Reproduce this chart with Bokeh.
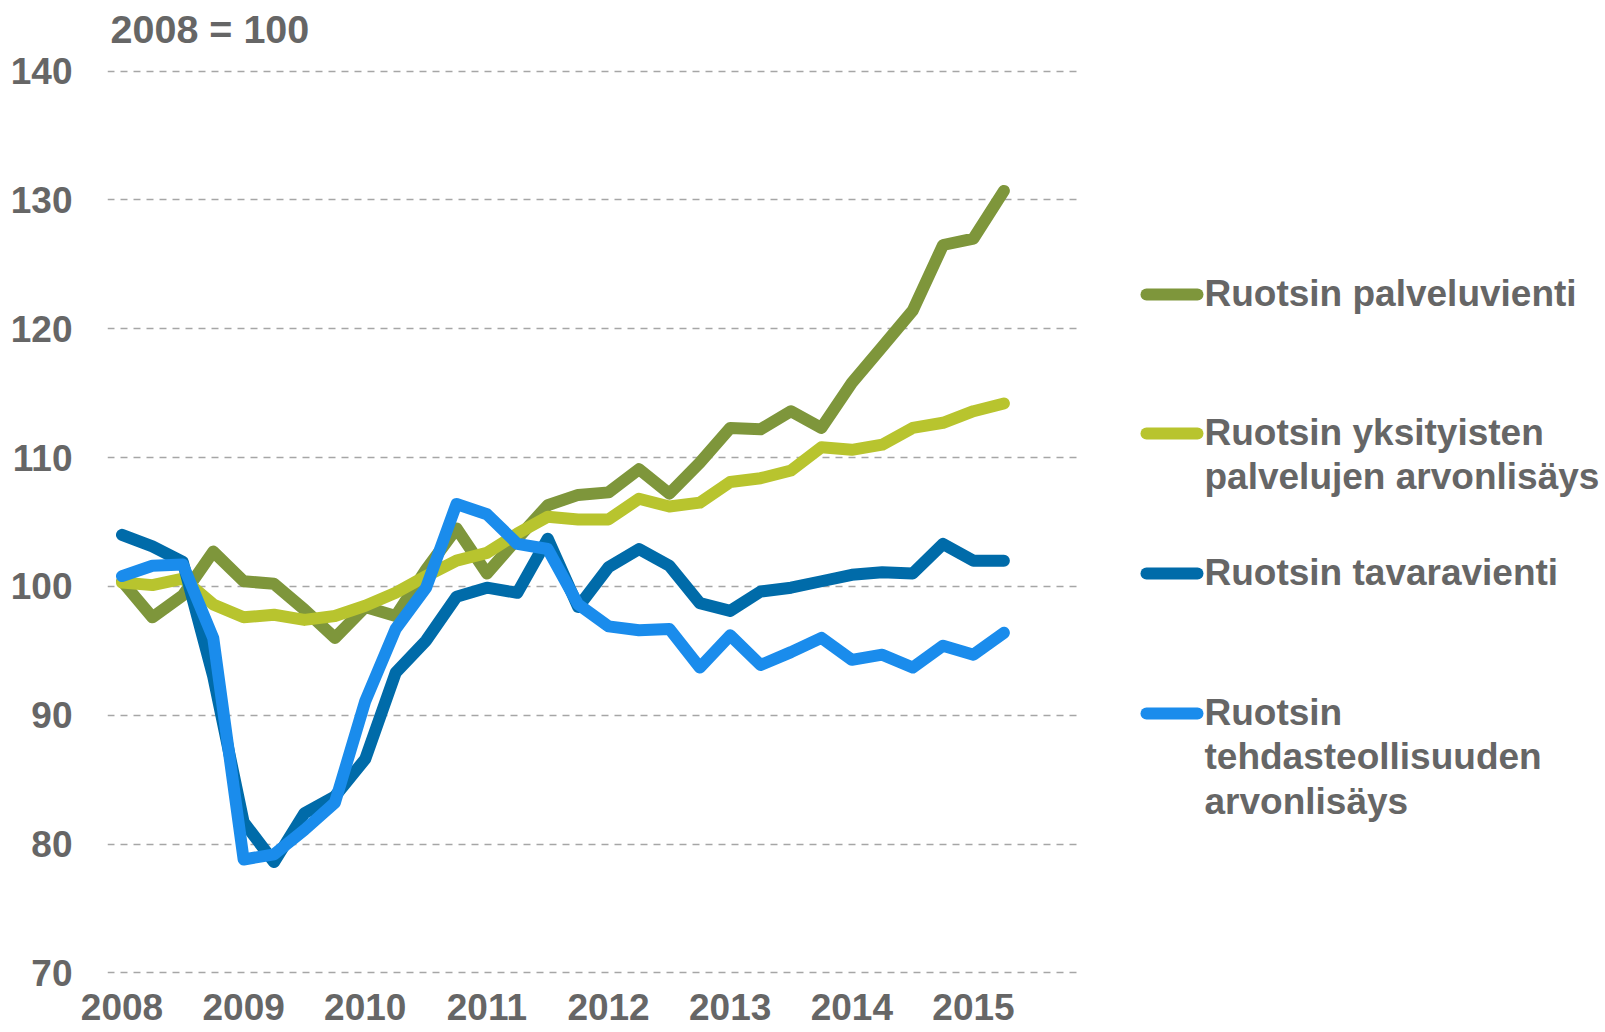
from bokeh.plotting import figure
from bokeh.models import FixedTicker, Label, Range1d
from bokeh.embed import file_html
from bokeh.resources import INLINE

# ---------------- data (quarterly, 2008Q1 .. 2015Q2, 2008 = 100) ----------------
quarters = list(range(30))
year_ticks = [0, 4, 8, 12, 16, 20, 24, 28]
year_labels = ["2008", "2009", "2010", "2011", "2012", "2013", "2014", "2015"]
y_ticks = [70, 80, 90, 100, 110, 120, 130, 140]

palveluvienti = [100.4, 97.6, 99.3, 102.7, 100.4, 100.2, 98.2, 96.0, 98.4, 97.7,
                 101.3, 104.5, 101.0, 103.7, 106.3, 107.1, 107.3, 109.1, 107.2, 109.6,
                 112.3, 112.2, 113.6, 112.3, 115.8, 118.6, 121.4, 126.5, 127.0, 130.7]
yksityiset = [100.3, 100.1, 100.6, 98.6, 97.6, 97.8, 97.4, 97.7, 98.5, 99.5,
              100.8, 102.0, 102.6, 104.1, 105.4, 105.2, 105.2, 106.8, 106.2, 106.5,
              108.1, 108.4, 109.0, 110.8, 110.6, 111.0, 112.3, 112.7, 113.6, 114.2]
tavaravienti = [104.0, 103.1, 101.9, 93.0, 81.7, 78.6, 82.4, 83.7, 86.6, 93.3,
                95.8, 99.2, 99.9, 99.5, 103.7, 98.4, 101.5, 102.9, 101.6, 98.7,
                98.1, 99.6, 99.9, 100.4, 100.9, 101.1, 101.0, 103.3, 102.0, 102.0]
tehdas = [100.8, 101.6, 101.7, 96.0, 78.8, 79.2, 81.1, 83.2, 91.1, 96.7,
          99.9, 106.4, 105.6, 103.3, 102.9, 98.6, 96.9, 96.6, 96.7, 93.7,
          96.2, 93.9, 94.9, 96.0, 94.3, 94.7, 93.7, 95.4, 94.7, 96.4]

series_names = ["Ruotsin palveluvienti",
                "Ruotsin yksityisten\npalvelujen arvonlisäys",
                "Ruotsin tavaravienti",
                "Ruotsin\ntehdasteollisuuden\narvonlisäys"]
series_values = [palveluvienti, yksityiset, tavaravienti, tehdas]
series_colors = ["#7E963B", "#B8C42E", "#006BA9", "#1A8CEC"]
title_text = "2008 = 100"

# ---------------- geometry (page pixels) ----------------
FONT = "Liberation Sans"
TXT = "#666666"
FS = "37px"
X0_PX, DX_PX = 121.5, 30.41          # page x of first quarter, px per quarter
Y100_PX, DY_PX = 585.9, 12.883       # page y of value 100, px per unit
PAGE_LEFT, PAGE_TOP = 0, 0           # the page template has no body margin
LABEL_SHIFT = 12.6                   # Label anchor sits this far above the glyph baseline


def px_to_x(px):
    return (px - X0_PX) / DX_PX


def py_to_y(py):
    return 100 + (Y100_PX - py) / DY_PX


W, H = 1603, 1030
BORDER_L, BORDER_B = 107, 43
p = figure(width=W, height=H, output_backend="svg", toolbar_location=None,
           x_range=Range1d(px_to_x(PAGE_LEFT + BORDER_L), px_to_x(PAGE_LEFT + W)),
           y_range=Range1d(py_to_y(PAGE_TOP + H - BORDER_B), py_to_y(PAGE_TOP)),
           min_border_left=BORDER_L, min_border_right=0, min_border_top=0,
           min_border_bottom=BORDER_B)
p.outline_line_color = None
p.background_fill_color = "white"
p.border_fill_color = "white"

# axes
p.xaxis.ticker = FixedTicker(ticks=year_ticks)
p.xaxis.major_label_overrides = {t: l for t, l in zip(year_ticks, year_labels)}
p.yaxis.ticker = FixedTicker(ticks=y_ticks)
for ax in (p.xaxis[0], p.yaxis[0]):
    ax.axis_line_color = None
    ax.major_tick_line_color = None
    ax.minor_tick_line_color = None
    ax.major_label_text_font = FONT
    ax.major_label_text_font_style = "bold"
    ax.major_label_text_font_size = FS
    ax.major_label_text_color = TXT
p.xaxis.major_label_standoff = 0
p.yaxis.major_label_standoff = 29

# grid
p.xgrid.visible = False
p.ygrid.ticker = FixedTicker(ticks=y_ticks)
p.ygrid.grid_line_color = "#A6A6A6"
p.ygrid.grid_line_width = 1.5
p.ygrid.grid_line_dash = "7 6"
grid_start, grid_end = px_to_x(107), px_to_x(1082)
try:
    p.ygrid.cross_bounds = (grid_start, grid_end)
except Exception:
    p.ygrid.visible = False
    p.segment(x0=[grid_start] * len(y_ticks), x1=[grid_end] * len(y_ticks),
              y0=y_ticks, y1=y_ticks, line_color="#A6A6A6", line_width=1.5, line_dash="7 6")

# series
for vals, col in zip(series_values, series_colors):
    p.line(quarters, vals, line_color=col, line_width=12, line_join="round", line_cap="round")


def add_text(px, baseline_py, text, size):
    p.add_layout(Label(x=px_to_x(px), y=py_to_y(baseline_py - LABEL_SHIFT), text=text,
                       text_font=FONT, text_font_style="bold", text_font_size=size,
                       text_color=TXT, text_baseline="alphabetic", text_align="left"))


# title
add_text(110, 40.7, title_text, "39.5px")

# legend (manual: sample line + label lines)
legend_glyph_py = [294, 433, 573, 713]
line_gap = 44.3
for name, col, gy in zip(series_names, series_colors, legend_glyph_py):
    p.line([px_to_x(1146), px_to_x(1197)], [py_to_y(gy), py_to_y(gy)],
           line_color=col, line_width=12, line_cap="round")
    for k, ln in enumerate(name.split("\n")):
        add_text(1204, gy + 11.5 + k * line_gap, ln, FS)

open("out.html", "w").write(file_html(p, INLINE))
